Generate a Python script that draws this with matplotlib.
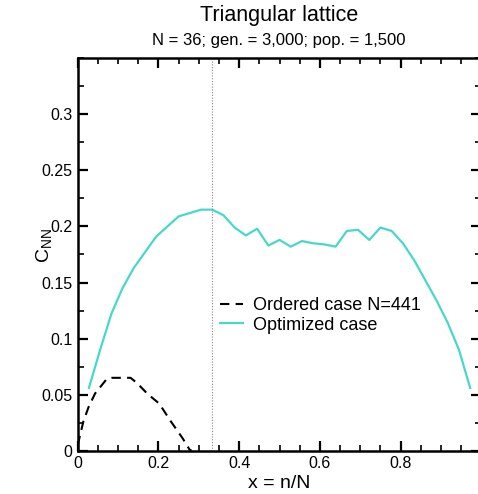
import numpy as np
import matplotlib
matplotlib.use("Agg")
import matplotlib.pyplot as plt
from matplotlib.ticker import FixedLocator, MultipleLocator, FuncFormatter

plt.rcParams["font.family"] = ["Liberation Sans", "DejaVu Sans"]
plt.rcParams["mathtext.default"] = "regular"

# Optimized configuration, N = 36 sites: x = n/N for n = 1..35
n_sites = 36
optimized_n = np.arange(1, 36)
optimized_c = [
    0.056, 0.090, 0.122, 0.145, 0.163, 0.177, 0.191, 0.200, 0.209, 0.212,
    0.215, 0.215, 0.210, 0.199, 0.192, 0.198, 0.183, 0.188, 0.182, 0.187,
    0.185, 0.184, 0.182, 0.196, 0.197, 0.188, 0.199, 0.196, 0.185, 0.170,
    0.152, 0.134, 0.114, 0.090, 0.056,
]

# Ordered reference lattice, N = 441
ordered_x = [0.0, 0.014, 0.027, 0.043, 0.072, 0.085, 0.131, 0.148, 0.172,
             0.202, 0.231, 0.260, 0.277, 0.282]
ordered_c = [0.005, 0.026, 0.039, 0.051, 0.064, 0.065, 0.065, 0.060, 0.051,
             0.042, 0.026, 0.011, 0.001, 0.0]

x_major = [0, 0.2, 0.4, 0.6, 0.8]
x_labels = ["0", "0.2", "0.4", "0.6", "0.8"]
y_major = [0, 0.05, 0.1, 0.15, 0.2, 0.25, 0.3]
y_labels = ["0", "0.05", "0.1", "0.15", "0.2", "0.25", "0.3"]

fig = plt.figure(figsize=(4.78, 4.94), dpi=100)
ax = fig.add_axes([77.7 / 478, 43.3 / 494, 403.7 / 478, 392.4 / 494])

opt_x = optimized_n / n_sites
ax.plot(ordered_x, ordered_c, color="black", lw=1.5, ls=(0, (4.5, 3)),
        label="Ordered case N=441")
ax.plot(opt_x, optimized_c, color="#48D8CB", lw=1.6, label="Optimized case")
ax.axvline(1 / 3, color="#888888", lw=0.8, ls=(0, (1, 1.5)))

ax.set_xlim(0, 1.0)
ax.set_ylim(0, 0.35)

ax.xaxis.set_major_locator(FixedLocator(x_major))
ax.xaxis.set_major_formatter(FuncFormatter(lambda v, p: x_labels[p] if p is not None and p < len(x_labels) else ""))
ax.set_xticklabels(x_labels)
ax.xaxis.set_minor_locator(MultipleLocator(0.05))
ax.yaxis.set_major_locator(FixedLocator(y_major))
ax.set_yticklabels(y_labels)
ax.yaxis.set_minor_locator(MultipleLocator(0.025))

ax.tick_params(which="both", direction="in", top=True, right=True,
               labelsize=11.5, pad=4)
ax.tick_params(which="major", length=7.5, width=1.6)
ax.tick_params(which="minor", length=4.5, width=1.2)
for s in ax.spines.values():
    s.set_linewidth(1.8)

fig.text(279 / 478, 1 - 16 / 494, "Triangular lattice", ha="center",
         va="center", fontsize=15.5)
fig.text(279 / 478, 1 - 40 / 494, "N = 36; gen. = 3,000; pop. = 1,500",
         ha="center", va="center", fontsize=12)
fig.text(279 / 478, 1 - 483 / 494, "x = n/N", ha="center", va="center",
         fontsize=14)
fig.text(44 / 478, 1 - 246 / 494, "$C_{NN}$", ha="center", va="center",
         rotation=90, fontsize=14)

ax.legend(loc="upper left", bbox_to_anchor=(0.3525, 0.392), frameon=False,
          fontsize=13, borderpad=0, borderaxespad=0, handlelength=1.25,
          handletextpad=0.55, labelspacing=0.15)

fig.savefig("out.png", dpi=100)
